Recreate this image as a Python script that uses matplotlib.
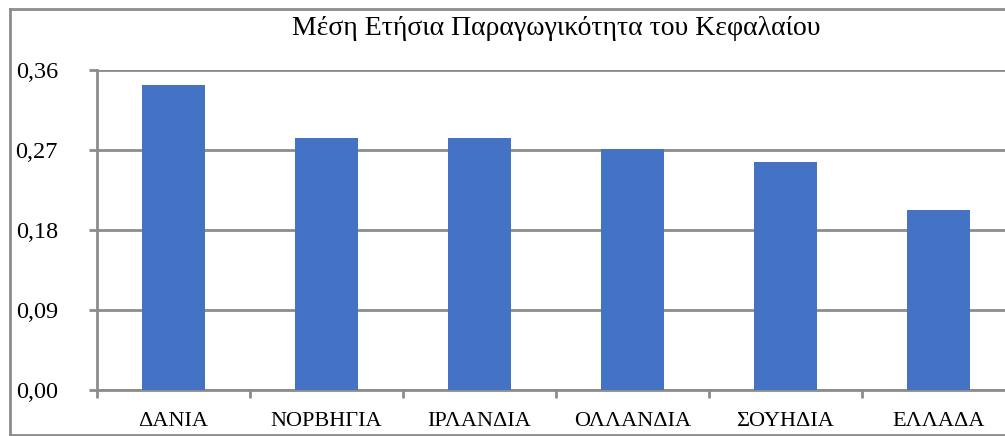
import numpy as np
import matplotlib.pyplot as plt
from matplotlib.lines import Line2D

'''Data'''
countries = ['ΔΑΝΙΑ', 'ΝΟΡΒΗΓΙΑ', 'ΙΡΛΑΝΔΙΑ', 'ΟΛΛΑΝΔΙΑ', 'ΣΟΥΗΔΙΑ', 'ΕΛΛΑΔΑ']
values = [0.343, 0.284, 0.2835, 0.271, 0.2565, 0.2025]
yticks = [0.00, 0.09, 0.18, 0.27, 0.36]
ytick_labels = ['0,00', '0,09', '0,18', '0,27', '0,36']
title = 'Μέση Ετήσια Παραγωγικότητα του Κεφαλαίου'

plt.rcParams['font.family'] = ['Liberation Serif', 'DejaVu Serif']
grey = '#8c8c8c'

W, H = 1005, 436
fig = plt.figure(figsize=(W / 100, H / 100), dpi=100)
# plot area runs past the right edge of the picture (clipped as in the reference)
left, right, top, bottom = 97, 1015, 70, 390
ax = fig.add_axes([left / W, 1 - bottom / H, (right - left) / W, (bottom - top) / H])

x = np.arange(len(countries))
ax.bar(x, values, width=0.41, color='#4472C4', zorder=3)

ax.set_xlim(-0.5, len(countries) - 0.5)
ax.set_ylim(0, 0.36)
ax.set_yticks(yticks)
ax.set_yticklabels(ytick_labels, fontsize=17.5)
ax.yaxis.grid(True, color=grey, linewidth=2, zorder=0)

ax.set_xticks(x)
ax.set_xticklabels(countries, fontsize=16)
ax.set_xticks(np.arange(-0.5, len(countries)), minor=True)
ax.tick_params(axis='x', which='major', length=0, pad=16)
ax.tick_params(axis='x', which='minor', length=6, width=2, color=grey)
ax.tick_params(axis='y', length=6, width=2, color=grey, pad=22)

for s in ['top', 'right']:
    ax.spines[s].set_visible(False)
for s in ['left', 'bottom']:
    ax.spines[s].set_color(grey)
    ax.spines[s].set_linewidth(2)

# outer chart border
bx0, by0, by1 = 9.5 / W, 1 - 435 / H, 1 - 9.5 / H
fig.add_artist(Line2D([bx0, bx0], [by0, by1], color=grey, lw=2, transform=fig.transFigure))
fig.add_artist(Line2D([bx0, 1], [by1, by1], color=grey, lw=2, transform=fig.transFigure))
fig.add_artist(Line2D([bx0, 1], [by0, by0], color=grey, lw=2, transform=fig.transFigure))

fig.text(556 / W, 1 - 28 / H, title, ha='center', va='center', fontsize=20)

fig.savefig('out.png', dpi=100)
